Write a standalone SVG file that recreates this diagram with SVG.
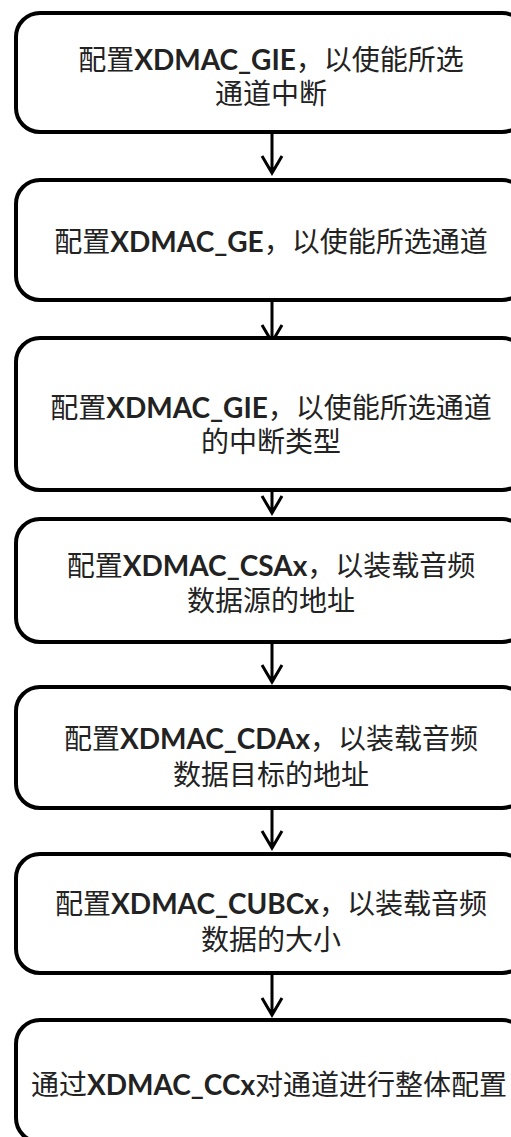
<svg xmlns="http://www.w3.org/2000/svg" width="511" height="1137" viewBox="0 0 511 1137">
<style>
.box{fill:#fff;stroke:#000;stroke-width:4}
.t{font-family:"Noto Sans CJK SC","Noto Sans",sans-serif;font-size:28px;fill:#222;text-anchor:middle}
.l{font-family:Lato,"Liberation Sans","Noto Sans CJK SC",sans-serif;font-weight:bold;font-size:28px}
.c{fill:none;stroke:#000;stroke-width:3}
</style>
<rect width="511" height="1137" fill="#fff"/>
<g id="connectors">
<path class="c" d="M272 132V173M262 156L272 173L282 156"/>
<path class="c" d="M272 300V342M262 325L272 342L282 325"/>
<path class="c" d="M272 490V513M262 496L272 513L282 496"/>
<path class="c" d="M272 642V682M262 665L272 682L282 665"/>
<path class="c" d="M272 808V848M262 831L272 848L282 831"/>
<path class="c" d="M272 973V1015M262 998L272 1015L282 998"/>
</g>
<g id="n1"><rect class="box" x="16" y="13" width="510" height="119" rx="24"/>
<text class="t" x="271" y="70">配置<tspan class="l">XDMAC_GIE</tspan>，以使能所选</text>
<text class="t" x="271" y="104">通道中断</text></g>
<g id="n2"><rect class="box" x="16" y="180" width="510" height="120" rx="24"/>
<text class="t" x="271" y="252">配置<tspan class="l">XDMAC_GE</tspan>，以使能所选通道</text></g>
<g id="n3"><rect class="box" x="16" y="338" width="510" height="152" rx="24"/>
<text class="t" x="271" y="418">配置<tspan class="l">XDMAC_GIE</tspan>，以使能所选通道</text>
<text class="t" x="271" y="452">的中断类型</text></g>
<g id="n4"><rect class="box" x="16" y="519" width="510" height="123" rx="24"/>
<text class="t" x="271" y="576">配置<tspan class="l">XDMAC_CSAx</tspan>，以装载音频</text>
<text class="t" x="271" y="611">数据源的地址</text></g>
<g id="n5"><rect class="box" x="16" y="687" width="510" height="121" rx="24"/>
<text class="t" x="271" y="749">配置<tspan class="l">XDMAC_CDAx</tspan>，以装载音频</text>
<text class="t" x="271" y="785">数据目标的地址</text></g>
<g id="n6"><rect class="box" x="16" y="854" width="510" height="119" rx="24"/>
<text class="t" x="271" y="914">配置<tspan class="l">XDMAC_CUBCx</tspan>，以装载音频</text>
<text class="t" x="271" y="950">数据的大小</text></g>
<g id="n7"><rect class="box" x="16" y="1020" width="510" height="122" rx="24"/>
<text class="t" x="269" y="1095">通过<tspan class="l">XDMAC_CCx</tspan>对通道进行整体配置</text></g>
</svg>
